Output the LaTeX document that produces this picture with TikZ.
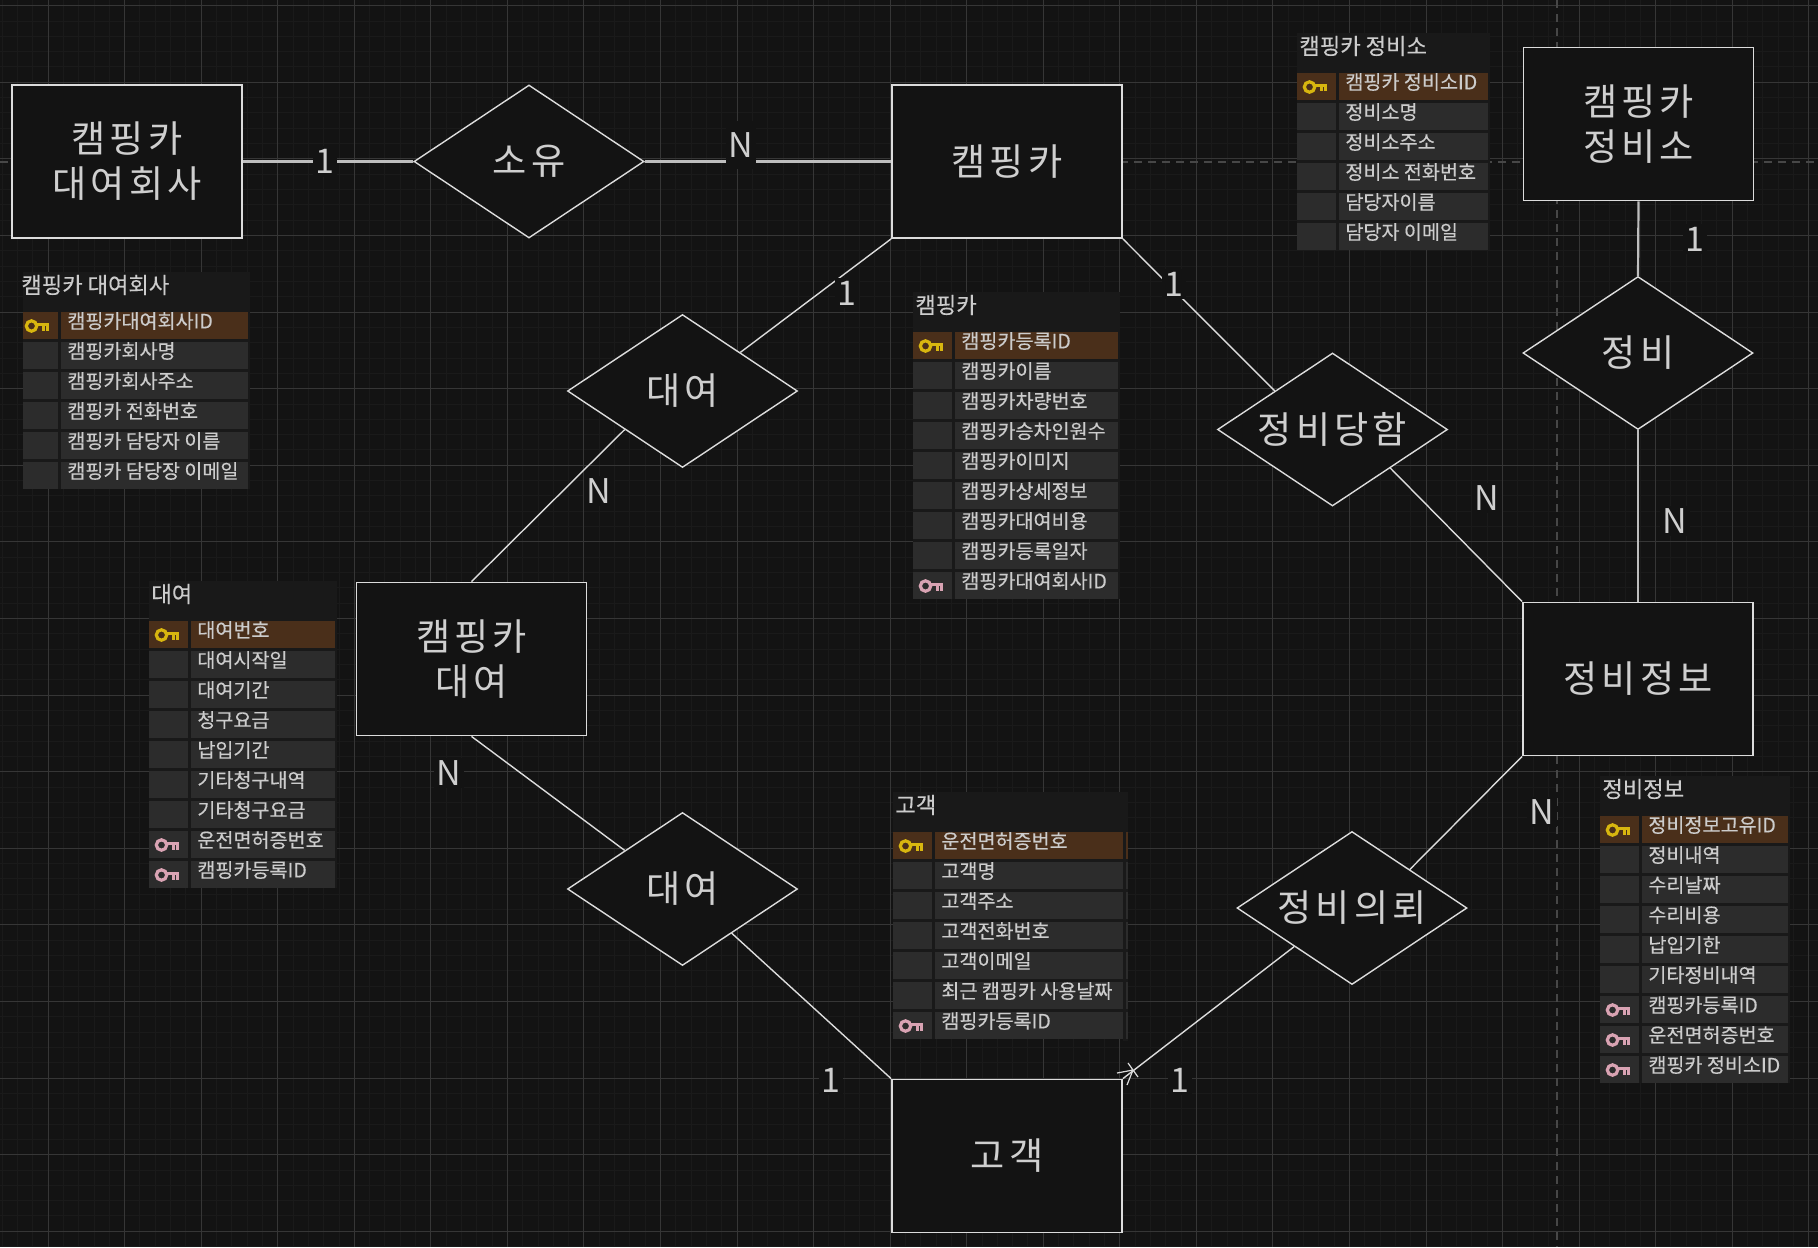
\documentclass[tikz,border=0pt]{standalone}
\usepackage{fontspec}
\usetikzlibrary{shapes.geometric}
\setmainfont{Noto Sans CJK KR}
\newfontfamily\kobig[LetterSpace=11]{Noto Sans CJK KR}
\newfontfamily\kocard{Noto Sans CJK KR}
\newfontfamily\kotxt[FakeBold=0.3]{Noto Sans CJK KR}
\definecolor{canvasbg}{HTML}{131313}
\definecolor{gridmajor}{HTML}{363636}
\definecolor{gridaxis}{HTML}{474747}
\definecolor{gridminor}{HTML}{1A1A1A}
\definecolor{tablebg}{HTML}{191919}
\definecolor{rowcell}{HTML}{2C2C2C}
\definecolor{rowpk}{HTML}{4A2F1A}
\definecolor{keygold}{HTML}{D8B60F}
\definecolor{keypink}{HTML}{D9A3B3}
\definecolor{inkline}{HTML}{DCDCDC}
\definecolor{inkheavy}{HTML}{BEBEBE}
\definecolor{inktext}{HTML}{CCCCCC}
\definecolor{inkbig}{HTML}{CFCFCF}
\tikzset{
  entity/.style={draw=inkline,line width=.9pt,fill=canvasbg,minimum width=115pt,minimum height=76.5pt,inner sep=0pt,align=center,text=inkbig,font=\kobig\fontsize{18.6pt}{22.5pt}\selectfont},
  relation/.style={diamond,aspect=1.5,draw=inkline,line width=.7pt,fill=canvasbg,minimum width=115pt,minimum height=76.5pt,inner sep=0pt,text=inkbig,font=\kobig\fontsize{18.6pt}{22.5pt}\selectfont},
  link/.style={draw=inkline,line width=.7pt},
  linkheavy/.style={draw=inkheavy,line width=1.1pt},
  card/.style={fill=canvasbg,inner sep=1.5pt,text=inkbig,font=\kocard\fontsize{17pt}{20pt}\selectfont},
  rowtext/.style={anchor=west,inner sep=0pt,text=inktext,font=\kotxt\fontsize{9.8pt}{11pt}\selectfont},
  titletext/.style={anchor=west,inner sep=0pt,text=inktext,font=\kotxt\fontsize{11.1pt}{13pt}\selectfont},
}
\newcommand\keyicon[3]{%
  \draw[#3,line width=1.6pt] ({#1+12.5},{#2+14}) circle[radius=5.2];
  \draw[#3,line width=1.7pt] ({#1+18},{#2+12.5}) -- ({#1+30},{#2+12.5});
  \draw[#3,line width=1.3pt] ({#1+28.5},{#2+12.5}) -- ({#1+28.5},{#2+18.5}) ({#1+24.5},{#2+12.5}) -- ({#1+24.5},{#2+18.5});
}
% name, content x, visible left, value right, first row y, rows count, title, rows
\newcommand\ertable[8]{%
  \fill[tablebg] ({#3},{#5-40}) rectangle ({#4+2},{#5+30*#6-3});
  \node[titletext] (#1-title) at ({#2+2},{#5-27}) {#7};
  \foreach \kk/\rowtxt [count=\i from 0] in {#8}{%
    \pgfmathsetmacro\ry{#5+30*\i}
    \ifnum\i=0 \def\cc{rowpk}\else\def\cc{rowcell}\fi
    \fill[\cc] ({#3},\ry) rectangle ({#2+39},{\ry+27});
    \fill[\cc] ({#2+42},\ry) rectangle ({#4},{\ry+27});
    \if\kk g\keyicon{#2}{\ry}{keygold}\fi
    \if\kk p\keyicon{#2}{\ry}{keypink}\fi
    \node[rowtext] (#1-\i) at ({#2+48},{\ry+9}) {\rowtxt};
  }%
}
\begin{document}
\begin{tikzpicture}[x=0.5pt,y=-0.5pt]
\useasboundingbox (0,0) rectangle (1818,1247);
\fill[canvasbg] (0,0) rectangle (1818,1247);
% grid
\foreach \k in {0,...,125}{
  \draw[gridminor,line width=.5pt] ({round(-13.6+15.31*\k)+.5},0) -- ({round(-13.6+15.31*\k)+.5},1247);
}
\foreach \k in {0,...,85}{
  \draw[gridminor,line width=.5pt] (0,{round(5.2+15.32*\k)+.5}) -- (1818,{round(5.2+15.32*\k)+.5});
}
\foreach \k in {0,...,24}{
  \draw[gridmajor,line width=.6pt] ({round(47.6+76.55*\k)+.5},0) -- ({round(47.6+76.55*\k)+.5},1247);
}
\foreach \k in {0,...,16}{
  \draw[gridmajor,line width=.6pt] (0,{round(5.2+76.6*\k)+.5}) -- (1818,{round(5.2+76.6*\k)+.5});
}
\draw[gridaxis,line width=.7pt,dash pattern=on 4pt off 3pt] (0,162) -- (1818,162);
\draw[gridaxis,line width=.7pt,dash pattern=on 4pt off 3pt] (1557,0) -- (1557,1247);
% entities
\node[entity] (rentco) at (127,161.5) {캠핑카\\대여회사};
\node[entity] (camper) at (1007,161.5) {캠핑카};
\node[entity] (shop) at (1638.5,124) {캠핑카\\정비소};
\node[entity] (rental) at (471.5,659) {캠핑카\\대여};
\node[entity] (repair) at (1638,679) {정비정보};
\node[entity] (cust) at (1007,1156) {고객};
% relations
\node[relation] (own) at (529,161.5) {소유};
\node[relation] (rent1) at (682.5,391) {대여};
\node[relation] (getfix) at (1332.5,429.5) {정비당함};
\node[relation] (fix) at (1638,353) {정비};
\node[relation] (rent2) at (682.5,889) {대여};
\node[relation] (askfix) at (1352,908) {정비의뢰};
% connectors
\coordinate (rent2out) at (731.5,933);
\draw[linkheavy] (rentco.east) -- (own.west);
\draw[linkheavy] (own.east) -- (camper.west);
\draw[link] (camper.south west) -- (rent1.north east);
\draw[link] (rent1.south west) -- (rental.north);
\draw[link] (rental.south) -- (rent2.north west);
\draw[link] (rent2out) -- (cust.north west);
\draw[link] (cust.north east) -- (askfix.south west);
\draw[link] (askfix.north east) -- (repair.south west);
\draw[link] (camper.south east) -- (getfix.north west);
\draw[link] (getfix.south east) -- (repair.north west);
\draw[linkheavy] (shop.south) -- (fix.north);
\draw[linkheavy] (fix.south) -- (repair.north);
\coordinate (tip) at (1133,1070);
\draw[link,line width=.6pt] (tip) -- ++(-16,3) (tip) -- ++(-6,15) (tip) ++(-5,-7) -- ++(10,14);
% cardinalities
\node[card] (c1) at (325,161.5) {1};
\node[card,inner ysep=6pt] (c2) at (741,145) {N};
\node[card] (c3) at (847,293) {1};
\node[card] (c4) at (599,491) {N};
\node[card] (c5) at (449,773) {N};
\node[card] (c6) at (831,1080) {1};
\node[card] (c7) at (1180,1080) {1};
\node[card] (c8) at (1542,812) {N};
\node[card] (c9) at (1174,284) {1};
\node[card] (c10) at (1487,498) {N};
\node[card] (c11) at (1695,239) {1};
\node[card] (c12) at (1675,521) {N};
% tables
\ertable{ta}{19}{23}{248}{312}{6}{캠핑카 대여회사}{g/캠핑카대여회사ID,n/캠핑카회사명,n/캠핑카회사주소,n/캠핑카 전화번호,n/캠핑카 담당자 이름,n/캠핑카 담당장 이메일}
\ertable{tb}{913}{913}{1118}{332}{9}{캠핑카}{g/캠핑카등록ID,n/캠핑카이름,n/캠핑카차량번호,n/캠핑카승차인원수,n/캠핑카이미지,n/캠핑카상세정보,n/캠핑카대여비용,n/캠핑카등록일자,p/캠핑카대여회사ID}
\ertable{tc}{1297}{1297}{1488}{73}{6}{캠핑카 정비소}{g/캠핑카 정비소ID,n/정비소명,n/정비소주소,n/정비소 전화번호,n/담당자이름,n/담당자 이메일}
\ertable{td}{149}{149}{335}{621}{9}{대여}{g/대여번호,n/대여시작일,n/대여기간,n/청구요금,n/납입기간,n/기타청구내역,n/기타청구요금,p/운전면허증번호,p/캠핑카등록ID}
\fill[tablebg] (1123,792) rectangle (1128,1041);
\foreach \s/\c in {832/rowpk,862/rowcell,892/rowcell,922/rowcell,952/rowcell,982/rowcell,1012/rowcell}{
  \fill[\c] (1125.5,\s) rectangle (1128,{\s+27});
}
\ertable{te}{893}{893}{1123}{832}{7}{고객}{g/운전면허증번호,n/고객명,n/고객주소,n/고객전화번호,n/고객이메일,n/최근 캠핑카 사용날짜,p/캠핑카등록ID}
\ertable{tf}{1600}{1600}{1788}{816}{9}{정비정보}{g/정비정보고유ID,n/정비내역,n/수리날짜,n/수리비용,n/납입기한,n/기타정비내역,p/캠핑카등록ID,p/운전면허증번호,p/캠핑카 정비소ID}
\end{tikzpicture}
\end{document}
